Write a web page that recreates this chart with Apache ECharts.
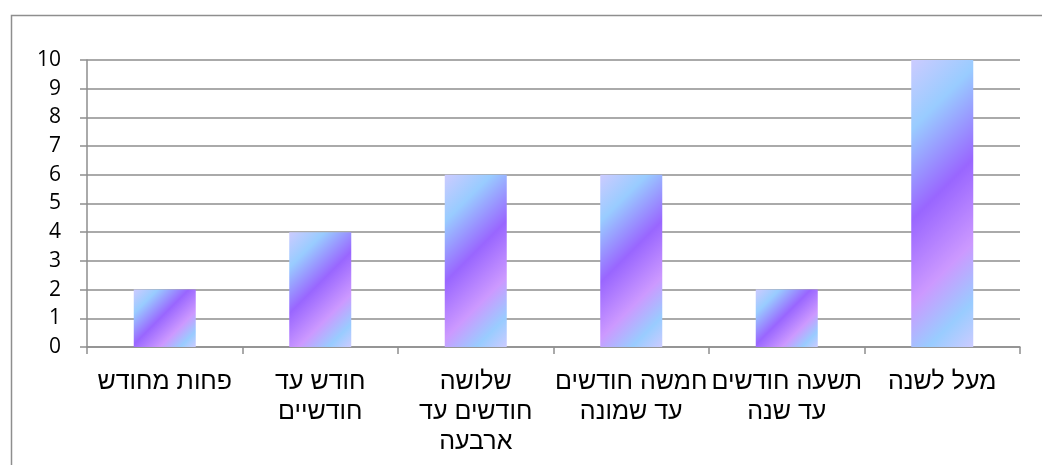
<!DOCTYPE html>
<html>
<head>
<meta charset="utf-8">
<script src="https://cdn.jsdelivr.net/npm/echarts@6/dist/echarts.min.js"></script>
<style>
  html, body { margin: 0; padding: 0; background: #fff; }
  #chart { width: 1042px; height: 465px; }
</style>
</head>
<body>
<div id="chart"></div>
<script>
// Duration categories (Hebrew), wrapped the way they are printed under the axis
const categories = [
  'פחות מחודש',
  'חודש עד\nחודשיים',
  'שלושה\nחודשים עד\nארבעה',
  'חמשה חודשים\nעד שמונה',
  'תשעה חודשים\nעד שנה',
  'מעל לשנה'
];
const counts = [2, 4, 6, 6, 2, 10];
const yTicks = { min: 0, max: 10, interval: 1 };

const HEB_FONT = '"Liberation Sans", "DejaVu Sans", sans-serif';
const NUM_FONT = '"Open Sans", "Liberation Sans", sans-serif';
const GRID_COLOR = '#8e8e8e';
const BAR_WIDTH = 62;

// 45° multi-stop fill: the colour bands keep the same slant on every bar,
// so the gradient end point is derived from each bar's pixel size.
const stops = [
  { offset: 0.00, color: '#cccbff' },
  { offset: 0.20, color: '#99ccff' },
  { offset: 0.46, color: '#9966ff' },
  { offset: 0.70, color: '#cc99ff' },
  { offset: 0.87, color: '#99ccff' },
  { offset: 1.00, color: '#cccbff' }
];
function diagonalFill(w, h) {
  return new echarts.graphic.LinearGradient(
    0, 0, (w + h) / (2 * w), (w + h) / (2 * h), stops
  );
}

const chart = echarts.init(document.getElementById('chart'), null, { renderer: 'canvas' });

const option = {
  animation: false,
  backgroundColor: '#ffffff',
  graphic: [{
    type: 'rect',
    left: 9, top: 13,
    shape: { width: 1100, height: 500 },
    style: { fill: 'none', stroke: '#8e8e8e', lineWidth: 1.5 },
    silent: true, z: -1
  }],
  grid: { left: 87, right: 22, top: 60, bottom: 118, containLabel: false },
  xAxis: {
    type: 'category',
    data: categories,
    axisLine: { show: true, lineStyle: { color: GRID_COLOR, width: 1.5 } },
    axisTick: { show: true, length: 7, lineStyle: { color: GRID_COLOR, width: 1.5 } },
    axisLabel: {
      interval: 0, margin: 20, color: '#000', fontSize: 25,
      lineHeight: 30, fontFamily: HEB_FONT, align: 'center'
    },
    splitLine: { show: false }
  },
  yAxis: {
    type: 'value',
    min: yTicks.min, max: yTicks.max, interval: yTicks.interval,
    axisLine: { show: true, lineStyle: { color: GRID_COLOR, width: 1.5 } },
    axisTick: { show: true, length: 7, lineStyle: { color: GRID_COLOR, width: 1.5 } },
    axisLabel: { margin: 26, color: '#000', fontSize: 21, fontFamily: NUM_FONT },
    splitLine: { show: true, lineStyle: { color: GRID_COLOR, width: 1.5 } }
  },
  series: [{
    type: 'bar',
    data: counts,
    barWidth: BAR_WIDTH,
    itemStyle: { color: '#9966ff' }
  }]
};
chart.setOption(option);

// Second pass: give every bar its own 45° gradient sized to its pixel height
const y0 = chart.convertToPixel({ yAxisIndex: 0 }, 0);
const styled = counts.map(v => {
  const h = Math.max(1, y0 - chart.convertToPixel({ yAxisIndex: 0 }, v));
  return { value: v, itemStyle: { color: diagonalFill(BAR_WIDTH, h) } };
});
chart.setOption({ series: [{ data: styled }] });
</script>
</body>
</html>
